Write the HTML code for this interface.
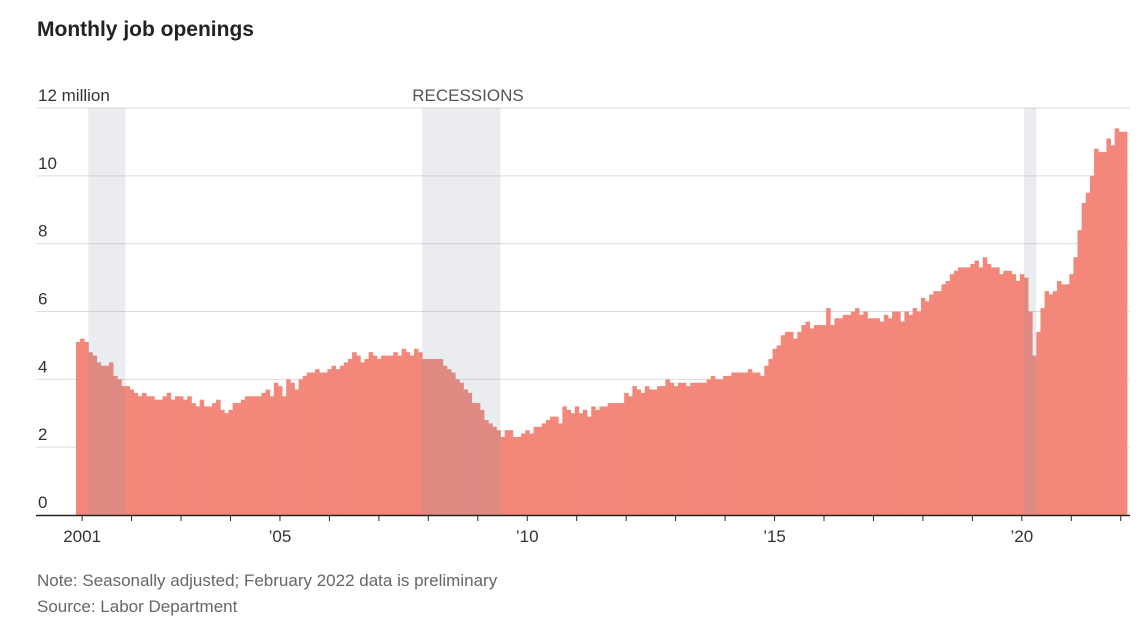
<!DOCTYPE html>
<html><head><meta charset="utf-8">
<style>
body{margin:0;background:#fff;width:1148px;height:622px;overflow:hidden;font-family:"Liberation Sans",sans-serif;}
svg{position:absolute;left:0;top:0}
</style></head>
<body>
<svg width="1148" height="622">
<text x="37" y="36" font-size="21" font-weight="bold" fill="#222">Monthly job openings</text>
<g id="grid"></g>
<g id="bars"></g>
<g id="rec"></g>
<g id="axis"></g>
<text x="37" y="586" font-size="17" fill="#666">Note: Seasonally adjusted; February 2022 data is preliminary</text>
<text x="37" y="612" font-size="17" fill="#666">Source: Labor Department</text>
</svg>
<script>
const startYear = 2000, startMonth = 11; // Dec 2000
const openings = [5.1,
5.2,5.1,4.8,4.7,4.5,4.4,4.4,4.5,4.1,4.0,3.8,3.8,
3.7,3.6,3.5,3.6,3.5,3.5,3.4,3.4,3.5,3.6,3.4,3.5,
3.5,3.4,3.5,3.3,3.2,3.4,3.2,3.2,3.3,3.4,3.1,3.0,
3.1,3.3,3.3,3.4,3.5,3.5,3.5,3.5,3.6,3.7,3.5,3.9,
3.8,3.5,4.0,3.9,3.7,4.0,4.1,4.2,4.2,4.3,4.2,4.2,
4.3,4.4,4.3,4.4,4.5,4.6,4.8,4.7,4.5,4.6,4.8,4.7,
4.6,4.7,4.7,4.7,4.8,4.7,4.9,4.8,4.7,4.9,4.8,4.6,
4.6,4.6,4.6,4.6,4.4,4.3,4.2,4.0,3.9,3.7,3.6,3.3,
3.3,3.1,2.8,2.7,2.6,2.5,2.3,2.5,2.5,2.3,2.3,2.4,
2.5,2.4,2.6,2.6,2.7,2.8,2.9,2.9,2.7,3.2,3.1,3.0,
3.2,3.0,3.1,2.9,3.2,3.1,3.2,3.2,3.3,3.3,3.3,3.3,
3.6,3.5,3.8,3.7,3.6,3.8,3.7,3.7,3.8,3.8,4.0,3.9,
3.8,3.9,3.9,3.8,3.9,3.9,3.9,3.9,4.0,4.1,4.0,4.0,
4.1,4.1,4.2,4.2,4.2,4.2,4.3,4.2,4.2,4.1,4.4,4.6,
4.9,5.0,5.3,5.4,5.4,5.2,5.4,5.6,5.7,5.5,5.6,5.6,
5.6,6.1,5.6,5.8,5.8,5.9,5.9,6.0,6.1,5.9,6.0,5.8,
5.8,5.8,5.7,5.9,5.8,6.0,6.0,5.7,6.0,5.9,6.1,6.0,
6.4,6.3,6.5,6.6,6.6,6.8,6.9,7.1,7.2,7.3,7.3,7.3,
7.4,7.5,7.3,7.6,7.4,7.3,7.3,7.1,7.2,7.2,7.1,6.9,
7.1,7.0,6.0,4.7,5.4,6.1,6.6,6.5,6.6,6.9,6.8,6.8,
7.1,7.6,8.4,9.2,9.5,10.0,10.8,10.7,10.7,11.1,10.9,11.4,
11.3,11.3];
const yTicks = [0,2,4,6,8,10,12];
const yTickLabels = ["0","2","4","6","8","10","12 million"];
const recessions = [[2001.167,2001.917],[2007.917,2009.5],[2020.083,2020.333]];
const xLabels = [[2001,"2001"],[2005,"’05"],[2010,"’10"],[2015,"’15"],[2020,"’20"]];

const NS="http://www.w3.org/2000/svg";
const X0=76, MW=(1127-76)/255, Y0=515, PY=(515-108)/12;
const xm = i => X0 + i*MW;                     // month index -> x
const xd = d => X0 + (d - (startYear + startMonth/12))*12*MW; // decimal year -> x
const y = v => Y0 - v*PY;
function mk(tag, attrs, parent){const e=document.createElementNS(NS,tag);for(const k in attrs)e.setAttribute(k,attrs[k]);document.getElementById(parent).appendChild(e);return e;}

yTicks.forEach((t,i)=>{
  if(t>0){const l=mk('line',{x1:36,x2:1130,y1:y(t),y2:y(t),stroke:'#dcdcdc','stroke-width':1},'grid');
  
  }
  const tx=mk('text',{x:38,y:y(t)-7,'font-size':17,fill:'#333'},'grid');
  tx.textContent=yTickLabels[i];
  
  
});
openings.forEach((v,i)=>{
  const r=mk('rect',{x:xm(i),y:y(v),width:MW+0.4,height:Y0-y(v),fill:'#f2877a'},'bars');
  
  
});
recessions.forEach(([a,b])=>{
  const r=mk('rect',{x:xd(a),y:y(12),width:xd(b)-xd(a),height:Y0-y(12),fill:'rgba(140,150,170,0.18)'},'rec');
  
  
});
const rl=mk('text',{x:xd(2007.917)-10,y:y(12)-7,'font-size':17,fill:'#555'},'rec');
rl.textContent='RECESSIONS';


const ax=mk('line',{x1:36,x2:1130,y1:Y0+0.5,y2:Y0+0.5,stroke:'#222','stroke-width':1.5},'axis');


for(let yr=2001;yr<=2022;yr++){
  const tk=mk('line',{x1:xd(yr)+2,x2:xd(yr)+2,y1:Y0,y2:Y0+6,stroke:'#222','stroke-width':1},'axis');
  
  
}
xLabels.forEach(([yr,lab])=>{
  const t=mk('text',{x:xd(yr)+2,y:Y0+27,'font-size':17,fill:'#333','text-anchor':'middle'},'axis');
  t.textContent=lab;
  
  
});
</script>
</body></html>
